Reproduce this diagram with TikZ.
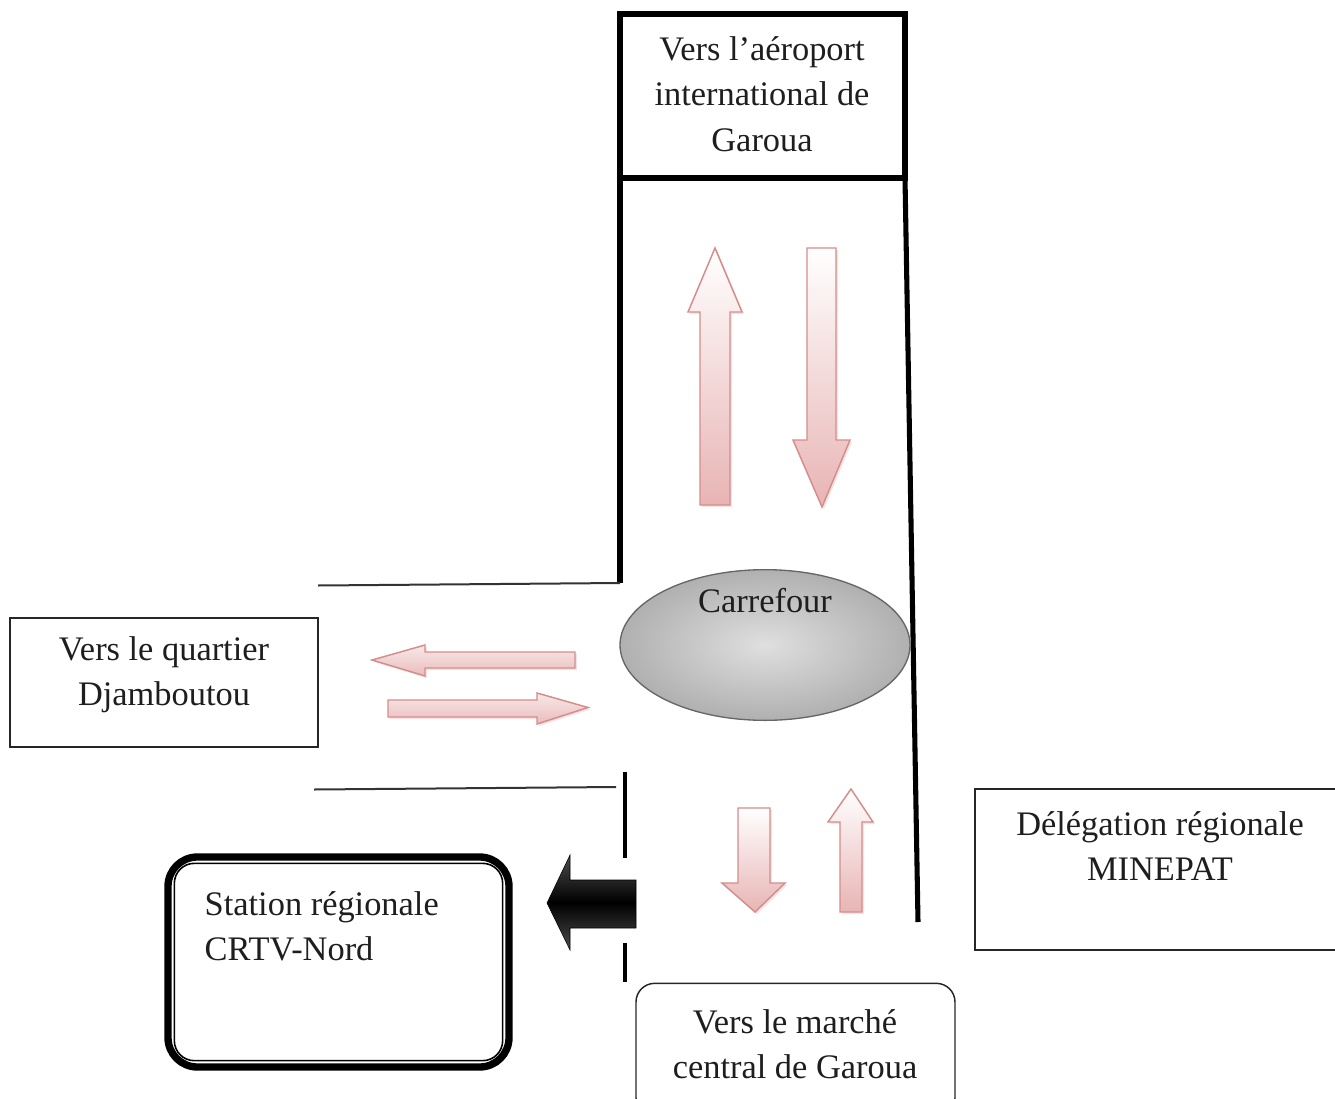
\documentclass[tikz,border=0pt]{standalone}
\usepackage{fontspec}
\setmainfont{Liberation Serif}
\usetikzlibrary{shadows,shapes.geometric}
\definecolor{pinkedge}{RGB}{214,140,140}
\definecolor{pinkfill}{RGB}{232,180,180}
\definecolor{txt}{RGB}{30,30,30}
\begin{document}
\begin{tikzpicture}[x=0.75pt,y=-0.75pt,
  every node/.style={font=\fontsize{25.8}{34}\selectfont, text=txt},
  road/.style={line width=3.8pt, black},
  thinroad/.style={line width=1.5pt, black!80},
  pinkarrowv/.style={draw=pinkedge, line width=1.1pt, line join=miter, top color=white, bottom color=pinkfill,
     drop shadow={shadow xshift=1.5pt, shadow yshift=-1.5pt, opacity=0.25, fill=pinkedge}},
  pinkarrowh/.style={draw=pinkedge, line width=1.1pt, line join=miter, top color=pinkfill!30, bottom color=pinkfill!90,
     drop shadow={shadow xshift=1.5pt, shadow yshift=-1.5pt, opacity=0.25, fill=pinkedge}},
  plainbox/.style={draw=black!85, line width=1.1pt, inner sep=0pt},
]
\useasboundingbox (0,0) rectangle (1335,1099);

% top box
\node[draw=black, line width=3.8pt, minimum width=213.75pt, minimum height=123pt, inner sep=0pt] (airport) at (762.5,96) {};
\node[align=center] (airporttxt) at (762,94) {Vers l’aéroport\\international de\\Garoua};

% road lines
\coordinate (lt) at (620,178);
\coordinate (lb) at (620,583);
\coordinate (rt) at (905,178);
\coordinate (rb) at (918,922);
\draw[road] (lt) -- (lb);
\draw[thinroad] (lb) -- (318,585.5) coordinate (ul);
\draw[road] (rt) -- (rb);
\coordinate (bl1) at (314,789.5);
\coordinate (bl2) at (616,787);
\draw[thinroad] (bl1) -- (bl2);
\coordinate (d1) at (625,772);
\coordinate (d2) at (625,858);
\coordinate (d3) at (625,943);
\coordinate (d4) at (625,982);
\draw[line width=3pt] (d1) -- (d2);
\draw[line width=3pt] (d3) -- (d4);

% carrefour ellipse
\node[ellipse, draw=black!60, line width=1pt, minimum width=217.5pt, minimum height=113pt,
      inner color=gray!25, outer color=gray!62] (carrefour) at (765,645) {};
\node (carrefourtxt) at (765,601) {Carrefour};

% left box
\node[plainbox, minimum width=231pt, minimum height=96.75pt] (djam) at (164,682.5) {};
\node[align=center] (djamtxt) at (164,675) {Vers le quartier\\Djamboutou};

% Delegation box
\node[plainbox, minimum width=276pt, minimum height=120.75pt] (deleg) at (1159,869.5) {};
\node[align=center] (delegtxt) at (1160,846) {Délégation régionale\\MINEPAT};

% bottom box
\node[plainbox, rounded corners=14pt, minimum width=239.25pt, minimum height=100pt] (market) at (795.5,1050) {};
\node[align=center] (markettxt) at (795,1044) {Vers le marché\\central de Garoua};

% station box
\node[draw=black, line width=5.5pt, rounded corners=22pt, minimum width=255.75pt, minimum height=157.5pt, inner sep=0pt] (station) at (338.5,962) {};
\draw[line width=1.2pt, rounded corners=15pt] ([shift={(7.5pt,-7.5pt)}]station.north west) rectangle ([shift={(-7.5pt,7.5pt)}]station.south east);
\node[align=left, anchor=north west] (stationtxt) at (200,887) {Station régionale\\CRTV-Nord};

% pink arrows top
\path[pinkarrowv] (700,505) -- (700,312) -- (688,312) -- (715,248) -- (742,312) -- (730,312) -- (730,505) -- cycle;
\path[pinkarrowv] (807,248) -- (836,248) -- (836,440) -- (850,440) -- (822,507) -- (793,440) -- (807,440) -- cycle;
% pink arrows left
\path[pinkarrowh] (575,652) -- (425,652) -- (425,645) -- (372,660) -- (425,676) -- (425,668) -- (575,668) -- cycle;
\path[pinkarrowh] (388,700) -- (537,700) -- (537,693) -- (588,707.5) -- (537,724) -- (537,717) -- (388,717) -- cycle;
% pink arrows bottom
\path[pinkarrowv] (738,808) -- (770,808) -- (770,883) -- (785,883) -- (755,912) -- (722,883) -- (738,883) -- cycle;
\path[pinkarrowv] (840,912) -- (840,822) -- (828,822) -- (851,789) -- (873,822) -- (862,822) -- (862,912) -- cycle;

% black arrow
\path[top color=black!70, bottom color=black!70, middle color=black, draw=black]
  (636,880) -- (570,880) -- (570,855) -- (547,903) -- (570,950) -- (570,928) -- (636,928) -- cycle;
\end{tikzpicture}
\end{document}
